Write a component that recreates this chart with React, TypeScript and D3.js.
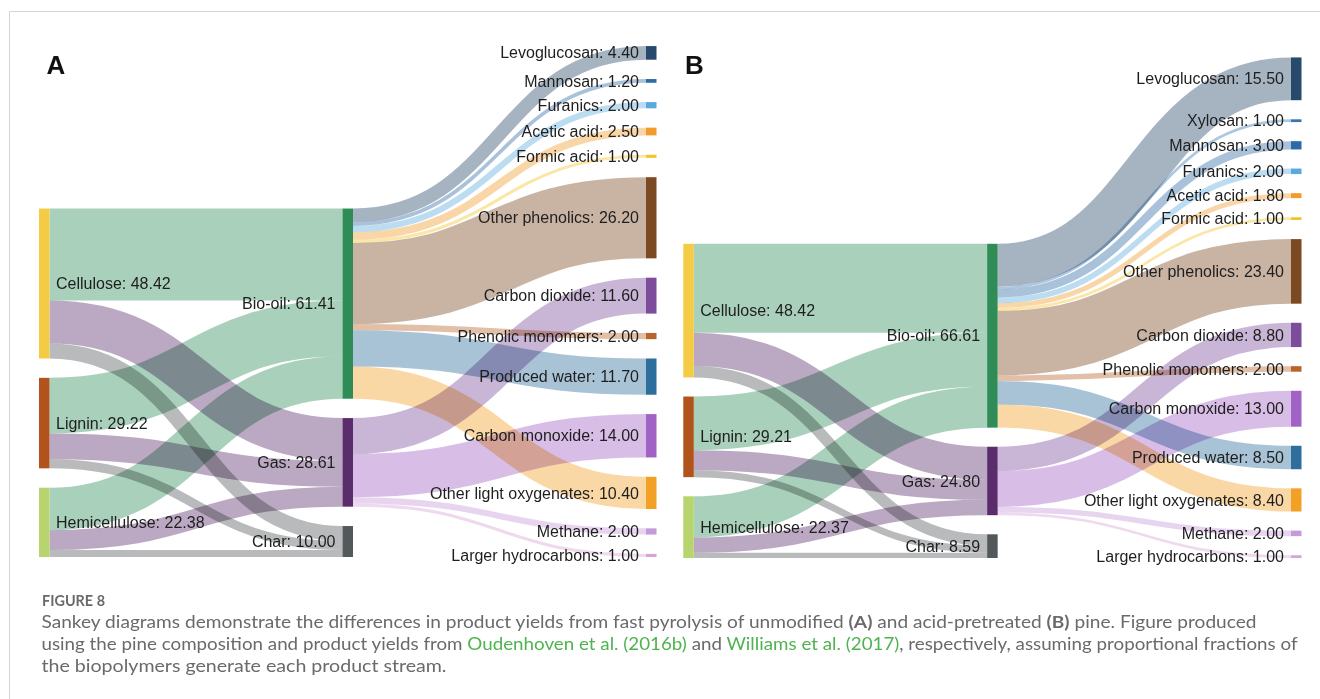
import React from "react";
import * as d3 from "d3";

// ---------- DATA ----------
const feedstocks = ["Cellulose", "Lignin", "Hemicellulose"];
const fractions = ["Bio-oil", "Gas", "Char"];

// Panel A (unmodified pine)
const feedValuesA = [48.42, 29.22, 22.38];
const fractionValuesA = [61.41, 28.61, 10.0];
const feedLinksA = [
  [29.73, 13.85, 4.84],
  [17.94, 8.36, 2.92],
  [13.74, 6.4, 2.24],
];
const productsA = [
  "Levoglucosan", "Mannosan", "Furanics", "Acetic acid", "Formic acid",
  "Other phenolics", "Carbon dioxide", "Phenolic monomers", "Produced water",
  "Carbon monoxide", "Other light oxygenates", "Methane", "Larger hydrocarbons",
];
const productValuesA = [4.4, 1.2, 2.0, 2.5, 1.0, 26.2, 11.6, 2.0, 11.7, 14.0, 10.4, 2.0, 1.0];
const productSourceA = [
  "Bio-oil", "Bio-oil", "Bio-oil", "Bio-oil", "Bio-oil", "Bio-oil", "Gas",
  "Bio-oil", "Bio-oil", "Gas", "Bio-oil", "Gas", "Gas",
];

// Panel B (acid-pretreated pine)
const feedValuesB = [48.42, 29.21, 22.37];
const fractionValuesB = [66.61, 24.8, 8.59];
const feedLinksB = [
  [32.25, 12.01, 4.16],
  [19.46, 7.24, 2.51],
  [14.9, 5.55, 1.92],
];
const productsB = [
  "Levoglucosan", "Xylosan", "Mannosan", "Furanics", "Acetic acid", "Formic acid",
  "Other phenolics", "Carbon dioxide", "Phenolic monomers", "Carbon monoxide",
  "Produced water", "Other light oxygenates", "Methane", "Larger hydrocarbons",
];
const productValuesB = [15.5, 1.0, 3.0, 2.0, 1.8, 1.0, 23.4, 8.8, 2.0, 13.0, 8.5, 8.4, 2.0, 1.0];
const productSourceB = [
  "Bio-oil", "Bio-oil", "Bio-oil", "Bio-oil", "Bio-oil", "Bio-oil", "Bio-oil",
  "Gas", "Bio-oil", "Gas", "Bio-oil", "Bio-oil", "Gas", "Gas",
];

const nodeColors: Record<string, string> = {
  Cellulose: "#f3cb45",
  Lignin: "#b1531c",
  Hemicellulose: "#b7d46f",
  "Bio-oil": "#2f8c57",
  Gas: "#5a2c6c",
  Char: "#53585a",
  Levoglucosan: "#27496b",
  Xylosan: "#3576b3",
  Mannosan: "#2d6ba6",
  Furanics: "#5aa9de",
  "Acetic acid": "#f19b2c",
  "Formic acid": "#f2c42a",
  "Other phenolics": "#7b4a22",
  "Carbon dioxide": "#7d4c9b",
  "Phenolic monomers": "#b8642a",
  "Produced water": "#2e6e9c",
  "Carbon monoxide": "#a062c4",
  "Other light oxygenates": "#f2a126",
  Methane: "#c59ad9",
  "Larger hydrocarbons": "#d9a2d9",
};

// ---------- LAYOUT ----------
type N = { name: string; value: number; col: number; x0: number; x1: number; y0: number; y1: number; outOff: number; inOff: number };
type L = { source: N; target: N; value: number; w: number; sy: number; ty: number };

interface PanelCfg {
  xLeft: number; xRight: number; bottom: number; ky: number; pad: number; nodeW: number;
  feedValues: number[]; fractionValues: number[]; feedLinks: number[][];
  products: string[]; productValues: number[]; productSource: string[];
}

function buildPanel(cfg: PanelCfg) {
  const xs = d3.scalePoint<number>().domain([0, 1, 2]).range([cfg.xLeft, cfg.xRight]);
  const vy = d3.scaleLinear().domain([0, 1]).range([0, cfg.ky]);
  const stack = (names: string[], values: number[], col: number): N[] => {
    const total = d3.sum(values);
    let y = cfg.bottom - (vy(total) + cfg.pad * (values.length - 1));
    return names.map((name, i) => {
      const x0 = xs(col) as number;
      const n: N = { name, value: values[i], col, x0, x1: x0 + cfg.nodeW, y0: y, y1: y + vy(values[i]), outOff: 0, inOff: 0 };
      y = n.y1 + cfg.pad;
      return n;
    });
  };
  const left = stack(feedstocks, cfg.feedValues, 0);
  const mid = stack(fractions, cfg.fractionValues, 1);
  const right = stack(cfg.products, cfg.productValues, 2);
  const links: L[] = [];
  const addLink = (s: N, t: N, v: number) => {
    const w = vy(v);
    const sy = s.y0 + s.outOff + w / 2;
    const ty = t.y0 + t.inOff + w / 2;
    s.outOff += w;
    t.inOff += w;
    links.push({ source: s, target: t, value: v, w, sy, ty });
  };
  left.forEach((s, i) => mid.forEach((t, j) => addLink(s, t, cfg.feedLinks[i][j])));
  right.forEach((t, k) => {
    const s = mid.find((m) => m.name === cfg.productSource[k])!;
    addLink(s, t, cfg.productValues[k]);
  });
  return { nodes: [...left, ...mid, ...right], links };
}

const panelA = buildPanel({
  xLeft: 39, xRight: 646, bottom: 557, ky: 3.097, pad: 19.35, nodeW: 10.5,
  feedValues: feedValuesA, fractionValues: fractionValuesA, feedLinks: feedLinksA,
  products: productsA, productValues: productValuesA, productSource: productSourceA,
});
const panelB = buildPanel({
  xLeft: 683.3, xRight: 1291, bottom: 558, ky: 2.76, pad: 19.1, nodeW: 10.5,
  feedValues: feedValuesB, fractionValues: fractionValuesB, feedLinks: feedLinksB,
  products: productsB, productValues: productValuesB, productSource: productSourceB,
});

const linkGen = d3
  .linkHorizontal<L, [number, number]>()
  .source((d) => [d.source.x1, d.sy])
  .target((d) => [d.target.x0, d.ty]);

const labelFont = "'Liberation Sans', Arial, Helvetica, sans-serif";

function Sankey({ data, letter, letterX }: { data: ReturnType<typeof buildPanel>; letter: string; letterX: number }) {
  return (
    <g>
      <text x={letterX} y={74} fontFamily={labelFont} fontWeight={700} fontSize={26} fill="#111">
        {letter}
      </text>
      <g style={{ isolation: "isolate" }}>
        {data.links.map((l, i) => (
          <path
            key={i}
            d={linkGen(l) || ""}
            fill="none"
            stroke={nodeColors[l.target.name]}
            strokeOpacity={0.41}
            strokeWidth={Math.max(1, l.w)}
            style={{ mixBlendMode: "multiply" }}
          />
        ))}
      </g>
      {data.nodes.map((n, i) => (
        <rect key={i} x={n.x0} y={n.y0} width={n.x1 - n.x0} height={Math.max(1, n.y1 - n.y0)} fill={nodeColors[n.name]} />
      ))}
      {data.nodes.map((n, i) => {
        const isLeft = n.col === 0;
        return (
          <text
            key={"t" + i}
            x={isLeft ? n.x1 + 6.5 : n.x0 - 7}
            y={(n.y0 + n.y1) / 2}
            dy="0.35em"
            textAnchor={isLeft ? "start" : "end"}
            fontFamily={labelFont}
            fontSize={16}
            fill="#1e1e1e"
          >
            {`${n.name}: ${n.value.toFixed(2)}`}
          </text>
        );
      })}
    </g>
  );
}

const captionFont = "Lato, 'Open Sans', sans-serif";
const captionGray = "#6a6a6a";
const linkGreen = "#4fb34f";

export default function App() {
  return (
    <svg
      width={1320}
      height={699}
      viewBox="0 0 1320 699"
      style={{ position: "absolute", left: 0, top: 0, background: "#fff" }}
    >
      <rect x={0} y={0} width={1320} height={699} fill="#fff" />
      <line x1={9.5} y1={11.5} x2={1320} y2={11.5} stroke="#d4d4d4" strokeWidth={1} />
      <line x1={9.5} y1={11.5} x2={9.5} y2={699} stroke="#d4d4d4" strokeWidth={1} />
      <Sankey data={panelA} letter="A" letterX={46.5} />
      <Sankey data={panelB} letter="B" letterX={685} />

      <text x={42} y={606} fontFamily={captionFont} fontWeight={700} fontSize={15} fill={captionGray} textLength={63} lengthAdjust="spacingAndGlyphs">
        FIGURE 8
      </text>
      <text x={41.5} y={627.5} fontFamily={captionFont} fontSize={17} fill={captionGray} textLength={1215} lengthAdjust="spacingAndGlyphs">
        Sankey diagrams demonstrate the differences in product yields from fast pyrolysis of unmodified{" "}
        <tspan fontWeight={700}>(A)</tspan> and acid-pretreated <tspan fontWeight={700}>(B)</tspan> pine. Figure produced
      </text>
      <text x={41.5} y={649.5} fontFamily={captionFont} fontSize={17} fill={captionGray} textLength={1256} lengthAdjust="spacingAndGlyphs">
        using the pine composition and product yields from <tspan fill={linkGreen}>Oudenhoven et al. (2016b)</tspan> and{" "}
        <tspan fill={linkGreen}>Williams et al. (2017)</tspan>, respectively, assuming proportional fractions of
      </text>
      <text x={41.5} y={671.5} fontFamily={captionFont} fontSize={17} fill={captionGray} textLength={405} lengthAdjust="spacingAndGlyphs">
        the biopolymers generate each product stream.
      </text>
    </svg>
  );
}
